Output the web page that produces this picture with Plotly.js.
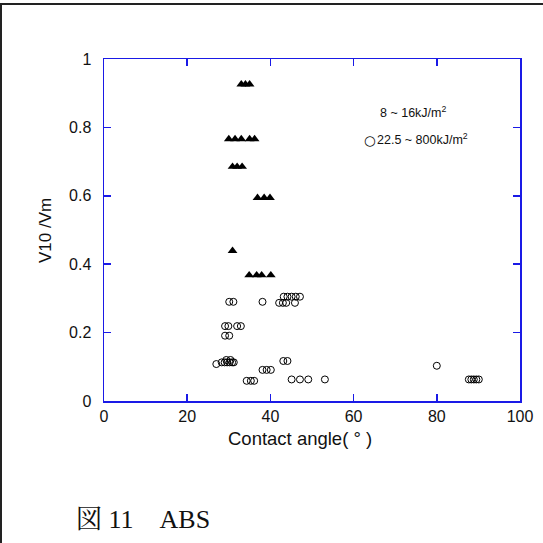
<!DOCTYPE html>
<html>
<head>
<meta charset="utf-8">
<script src="https://cdn.plot.ly/plotly-3.0.1.min.js"></script>
<style>
html,body{margin:0;padding:0;background:#fff;}
#wrap{position:relative;width:543px;height:543px;overflow:hidden;}
#frame{position:absolute;left:0;top:3px;width:560px;height:560px;border-top:2px solid #222;border-left:2px solid #222;box-sizing:border-box;pointer-events:none;z-index:5;}
#chart{position:absolute;left:0;top:0;width:543px;height:543px;}
</style>
</head>
<body>
<div id="wrap"><div id="chart"></div><div id="frame"></div></div>
<script>
// Low-energy series (triangles): 8 ~ 16 kJ/m2
const triX = [33, 34, 35, 30, 31.5, 33, 35, 36.2, 30.9, 32, 33.2, 36.9, 38.5, 39.9, 30.9, 34.9, 36.7, 37.9, 40.1];
const triY = [0.926, 0.926, 0.926, 0.766, 0.766, 0.766, 0.766, 0.766, 0.685, 0.685, 0.685, 0.594, 0.594, 0.594, 0.439, 0.368, 0.368, 0.368, 0.368];
// High-energy series (circles): 22.5 ~ 800 kJ/m2
const cirX = [30.1, 31.1, 38.1, 42.1, 43.0, 43.8, 45.9, 43.2, 44.1, 45.1, 46.1, 47.1,
              29.1, 29.9, 32.0, 32.9, 29.1, 30.1,
              27.0, 28.3, 29.0, 29.6, 30.2, 30.8, 31.2, 29.4, 30.4,
              43.1, 44.1, 38.1, 39.1, 40.1, 34.3, 35.3, 36.1,
              45.1, 47.1, 49.1, 53.1, 80.0, 87.7, 88.3, 88.9, 89.5, 90.1];
const cirY = [0.290, 0.290, 0.290, 0.287, 0.287, 0.287, 0.287, 0.305, 0.305, 0.305, 0.305, 0.305,
              0.219, 0.219, 0.219, 0.219, 0.191, 0.191,
              0.108, 0.113, 0.113, 0.113, 0.113, 0.113, 0.113, 0.120, 0.120,
              0.117, 0.117, 0.091, 0.091, 0.091, 0.059, 0.059, 0.059,
              0.063, 0.063, 0.063, 0.063, 0.103, 0.063, 0.063, 0.063, 0.063, 0.063];
const xTicks = [0, 20, 40, 60, 80, 100];
const yTicks = [0, 0.2, 0.4, 0.6, 0.8, 1];
const yTickText = ['0', '0.2', '0.4', '0.6', '0.8', '1'];
const legendTexts = ['8 ~ 16kJ/m<sup>2</sup>', '22.5 ~ 800kJ/m<sup>2</sup>'];
const xTitle = 'Contact angle( ° )';
const yTitle = 'V10 /Vm';
const caption = '図 11　ABS';

const axisBlue = '#1a1ae6';
const traces = [
  {x: triX, y: triY, type: 'scatter', mode: 'markers', cliponaxis: false,
   marker: {symbol: 'triangle-up', size: 8.5, color: '#000'}},
  {x: cirX, y: cirY, type: 'scatter', mode: 'markers', cliponaxis: false,
   marker: {symbol: 'circle-open', size: 7, color: '#000', line: {width: 1, color: '#000'}}}
];
const px = v => (v - 104) / 416;
const py = v => (401 - v) / 342;
const layout = {
  width: 543, height: 543,
  margin: {l: 104, r: 23, t: 59, b: 142},
  showlegend: false,
  paper_bgcolor: '#fff', plot_bgcolor: '#fff',
  font: {family: 'Liberation Sans, Arial, sans-serif', color: '#111', size: 16},
  xaxis: {range: [0, 100], tickvals: xTicks, ticktext: xTicks.map(String),
          showgrid: false, zeroline: false, showline: true, linecolor: axisBlue, linewidth: 1.5,
          mirror: 'ticks', ticks: 'inside', ticklen: 7, tickcolor: axisBlue, tickwidth: 1.5,
          tickfont: {size: 16}},
  yaxis: {range: [0, 1], tickvals: yTicks, ticktext: yTickText,
          showgrid: false, zeroline: false, showline: true, linecolor: axisBlue, linewidth: 1.5,
          mirror: 'ticks', ticks: 'inside', ticklen: 7, tickcolor: axisBlue, tickwidth: 1.5,
          tickfont: {size: 16}, ticklabelstandoff: 8},
  annotations: [
    {xref: 'paper', yref: 'paper', x: px(299.5), y: py(438), xanchor: 'center', yanchor: 'middle',
     text: xTitle, showarrow: false, font: {size: 18.5, color: '#111'}},
    {xref: 'paper', yref: 'paper', x: px(45), y: py(231), xanchor: 'center', yanchor: 'middle', textangle: -90,
     text: yTitle, showarrow: false, font: {size: 17, color: '#111'}},
    {xref: 'paper', yref: 'paper', x: px(378), y: py(112), xanchor: 'left', yanchor: 'middle',
     text: legendTexts[0], showarrow: false, font: {size: 12.5, color: '#111'}},
    {xref: 'paper', yref: 'paper', x: px(362), y: py(140), xanchor: 'left', yanchor: 'middle',
     text: '○', showarrow: false, font: {size: 13.5, color: '#111', family: 'DejaVu Sans, sans-serif'}},
    {xref: 'paper', yref: 'paper', x: px(375), y: py(139), xanchor: 'left', yanchor: 'middle',
     text: legendTexts[1], showarrow: false, font: {size: 12.5, color: '#111'}},
    {xref: 'paper', yref: 'paper', x: px(74), y: py(519), xanchor: 'left', yanchor: 'middle',
     text: caption, showarrow: false,
     font: {size: 26, color: '#111', family: 'Liberation Serif, "Noto Serif CJK JP", "Noto Sans CJK JP", serif'}}
  ]
};
Plotly.newPlot('chart', traces, layout, {displayModeBar: false, staticPlot: true});
</script>
</body>
</html>
